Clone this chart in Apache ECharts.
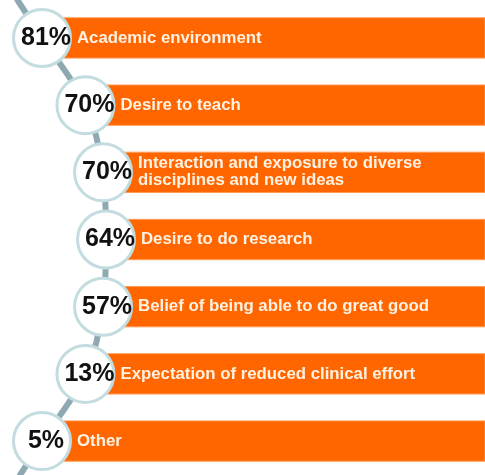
<!DOCTYPE html>
<html>
<head>
<meta charset="utf-8">
<script src="https://cdn.jsdelivr.net/npm/echarts@6/dist/echarts.min.js"></script>
<style>
  html, body { margin: 0; padding: 0; background: #ffffff; }
  #chart { width: 485px; height: 475px; }
</style>
</head>
<body>
<div id="chart"></div>
<script>
// Reasons given, one row each, top to bottom
const categories = [
  'Academic environment',
  'Desire to teach',
  'Interaction and exposure to diverse\ndisciplines and new ideas',
  'Desire to do research',
  'Belief of being able to do great good',
  'Expectation of reduced clinical effort',
  'Other'
];
// Share of respondents (%)
const shares = [81, 70, 70, 64, 57, 13, 5];

// Horizontal extent of the drawing area (x-axis units)
const X_MAX = 485;

// Badges sit on a bowed spine: the middle row sticks out furthest
function spineX(row) {
  const mid = (categories.length - 1) / 2;
  const t = Math.abs(row - mid) / mid;
  return 106 - 64 * Math.pow(t, 2.8);
}

const rows = categories.map((c, k) => [spineX(k), k]);
const badges = shares.map((v, k) => [spineX(k), k, v]);

// Spine runs past the first and last badge to the chart edges
const Y_MIN = -0.565, Y_MAX = 6.505;
const last = rows.length - 1;
const spine = [
  [rows[0][0] - (rows[1][0] - rows[0][0]) * (rows[0][1] - Y_MIN), Y_MIN]
].concat(rows).concat([
  [rows[last][0] + (rows[last][0] - rows[last - 1][0]) * (Y_MAX - rows[last][1]), Y_MAX]
]);

const FONT = '"Liberation Sans", Arial, sans-serif';

const chart = echarts.init(document.getElementById('chart'), null, { renderer: 'canvas' });
chart.setOption({
  backgroundColor: '#ffffff',
  animation: false,
  grid: { left: 0, right: 0, top: 0, bottom: 0 },
  xAxis: { type: 'value', min: 0, max: X_MAX, show: false },
  yAxis: { type: 'value', min: Y_MIN, max: Y_MAX, inverse: true, show: false },
  series: [
    {
      type: 'line',
      data: spine,
      smooth: 0.35,
      symbol: 'none',
      clip: false,
      z: 1,
      lineStyle: { color: '#8ea9b1', width: 6, cap: 'round' }
    },
    {
      type: 'custom',
      data: rows,
      encode: { x: 0, y: 1 },
      z: 2,
      renderItem: function (params, api) {
        const k = api.value(1);
        const start = api.coord([api.value(0), k]);
        const end = api.coord([X_MAX, k]);
        const h = api.size([0, 0.6])[1];
        return {
          type: 'group',
          children: [
            {
              type: 'rect',
              shape: { x: start[0], y: start[1] - h / 2, width: end[0] - start[0], height: h },
              style: { fill: '#ff6600', stroke: '#ff9a55', lineWidth: 1 }
            },
            {
              type: 'text',
              x: start[0] + 35,
              y: start[1],
              style: {
                text: categories[k],
                fill: '#fff2e2',
                fontFamily: FONT,
                fontWeight: 'bold',
                fontSize: 16.8,
                lineHeight: 17,
                align: 'left',
                verticalAlign: 'middle'
              }
            }
          ]
        };
      }
    },
    {
      type: 'scatter',
      data: badges,
      z: 3,
      symbol: 'circle',
      symbolSize: 57,
      itemStyle: { color: '#ffffff', opacity: 1, borderColor: '#c3dcdf', borderWidth: 3 },
      emphasis: { disabled: true },
      label: {
        show: true,
        position: 'inside',
        offset: [4, 0],
        formatter: p => p.value[2] + '%',
        color: '#111111',
        fontFamily: FONT,
        fontWeight: 'bold',
        fontSize: 25
      }
    }
  ]
});
</script>
</body>
</html>
